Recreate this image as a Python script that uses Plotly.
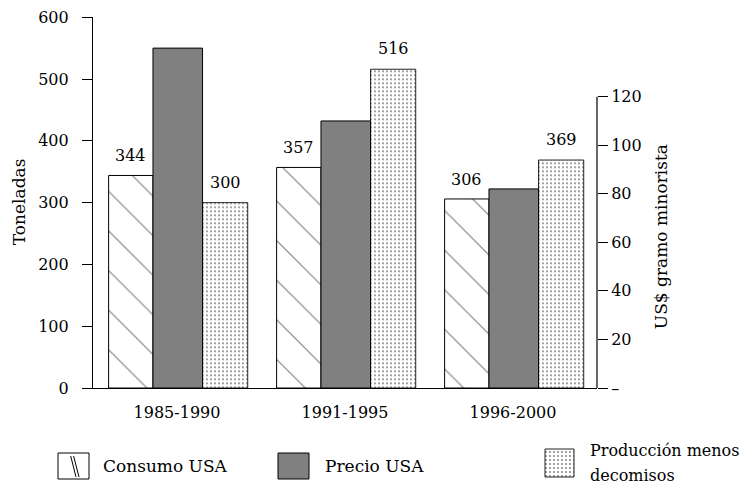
import plotly.graph_objects as go

# ---- data ----
categories = ["1985-1990", "1991-1995", "1996-2000"]
consumo_usa = [344, 357, 306]          # Toneladas
produccion_menos_decomisos = [300, 516, 369]  # Toneladas
precio_usa = [140, 110, 82]            # US$ gramo minorista (right axis)
left_tickvals = [0, 100, 200, 300, 400, 500, 600]
right_tickvals = [0, 20, 40, 60, 80, 100, 120]
right_ticktext = ["\u2013", "20", "40", "60", "80", "100", "120"]
series_names = ["Consumo USA", "Precio USA", "Producci\u00f3n menos", "decomisos"]

# ---- layout constants (pixels) ----
W, H = 750, 488
PL, PR, PT, PB = 93, 597, 17.33, 388
R120_PX = 96.67  # pixel row of the 120 tick on the right axis
FONT = "DejaVu Serif"
NUM = dict(family=FONT, size=16, color="black")
TXT = dict(family=FONT, size=17, color="black")
TXT16 = dict(family=FONT, size=16, color="black")

def px_x(x):
    return x / W

def px_y(y):
    return (H - y) / H

right_top = 120 * (PB - PT) / (PB - R120_PX)

# bar geometry per series (category units)
geo = {
    "consumo": dict(offset=-0.407, width=0.264),
    "precio": dict(offset=-0.143, width=0.295),
    "prod": dict(offset=0.152, width=0.269),
}

hatch = dict(shape="\\", size=28, solidity=0.04, fgcolor="black", bgcolor="white")
dots = dict(shape=".", size=4, solidity=0.18, fgcolor="black", bgcolor="white")

fig = go.Figure()

fig.add_bar(
    x=categories, y=consumo_usa, name=series_names[0],
    offset=geo["consumo"]["offset"], width=geo["consumo"]["width"],
    marker=dict(color="white", line=dict(color="black", width=1), pattern=hatch),
    xaxis="x", yaxis="y", showlegend=False,
)
fig.add_bar(
    x=categories, y=precio_usa, name=series_names[1],
    offset=geo["precio"]["offset"], width=geo["precio"]["width"],
    marker=dict(color="#808080", line=dict(color="black", width=1)),
    xaxis="x", yaxis="y2", showlegend=False,
)
fig.add_bar(
    x=categories, y=produccion_menos_decomisos, name=series_names[2] + " " + series_names[3],
    offset=geo["prod"]["offset"], width=geo["prod"]["width"],
    marker=dict(color="white", line=dict(color="#222", width=1), pattern=dots),
    xaxis="x", yaxis="y", showlegend=False,
)

# ---- legend icons (separate hidden pixel-space axes) ----
leg_x = [73.5, 293.5, 559.5]
leg_w = [31, 31, 29]
leg_base = [453, 453, 449]
leg_h = [26, 26, 28]
leg_markers = [
    dict(color="white", line=dict(color="black", width=1)),
    dict(color="#808080", line=dict(color="black", width=1)),
    dict(color="white", line=dict(color="#222", width=1), pattern=dots),
]
for i in range(3):
    fig.add_bar(x=[leg_x[i]], y=[leg_h[i]], base=[leg_base[i]], width=[leg_w[i]],
                marker=leg_markers[i], xaxis="x3", yaxis="y3", showlegend=False,
                hoverinfo="skip")

annotations = []
# value labels over Consumo and Produccion bars
for i, v in enumerate(consumo_usa):
    annotations.append(dict(x=i + geo["consumo"]["offset"] + geo["consumo"]["width"] / 2, y=v,
                            xref="x", yref="y", text=str(v), showarrow=False,
                            yanchor="bottom", yshift=8, font=NUM))
for i, v in enumerate(produccion_menos_decomisos):
    annotations.append(dict(x=i + geo["prod"]["offset"] + geo["prod"]["width"] / 2, y=v,
                            xref="x", yref="y", text=str(v), showarrow=False,
                            yanchor="bottom", yshift=9, font=NUM))
# axis titles
annotations.append(dict(x=px_x(18.5), y=px_y(201.7), xref="paper", yref="paper",
                        text="Toneladas", textangle=-90, showarrow=False, font=TXT,
                        xanchor="center", yanchor="middle"))
annotations.append(dict(x=px_x(661.7), y=px_y(236.5), xref="paper", yref="paper",
                        text="US$ gramo minorista", textangle=-90, showarrow=False, font=TXT,
                        xanchor="center", yanchor="middle"))
# legend texts
annotations.append(dict(x=px_x(101), y=px_y(465.5), xref="paper", yref="paper",
                        text=series_names[0], showarrow=False, font=TXT,
                        xanchor="left", yanchor="middle"))
annotations.append(dict(x=px_x(323), y=px_y(465.5), xref="paper", yref="paper",
                        text=series_names[1], showarrow=False, font=TXT,
                        xanchor="left", yanchor="middle"))
annotations.append(dict(x=px_x(588), y=px_y(450), xref="paper", yref="paper",
                        text=series_names[2], showarrow=False, font=TXT16,
                        xanchor="left", yanchor="middle"))
annotations.append(dict(x=px_x(588), y=px_y(475), xref="paper", yref="paper",
                        text=series_names[3], showarrow=False, font=TXT16,
                        xanchor="left", yanchor="middle"))

shapes = [
    # right axis line only from 0 to 120
    dict(type="line", xref="paper", yref="y2", x0=px_x(PR), x1=px_x(PR), y0=0, y1=120,
         line=dict(color="black", width=1.2)),
    # backslash marks in Consumo legend icon
    dict(type="line", xref="x3", yref="y3", x0=70.7, y0=456, x1=76, y1=477,
         line=dict(color="black", width=1)),
    dict(type="line", xref="x3", yref="y3", x0=73.6, y0=456, x1=79, y1=477,
         line=dict(color="black", width=1)),
]

fig.update_layout(
    width=W, height=H,
    margin=dict(l=0, r=0, t=0, b=0, autoexpand=False),
    paper_bgcolor="white", plot_bgcolor="rgba(0,0,0,0)",
    barmode="overlay",
    font=NUM,
    showlegend=False,
    xaxis=dict(domain=[px_x(PL), px_x(PR)], range=[-0.5, 2.5], type="category",
               showline=True, linecolor="black", linewidth=1.2, ticks="",
               showgrid=False, zeroline=False, tickfont=NUM, ticklabelstandoff=10,
               anchor="y", fixedrange=True, automargin=False),
    yaxis=dict(domain=[px_y(PB), px_y(PT)], range=[0, 600], tickvals=left_tickvals,
               showline=True, linecolor="black", linewidth=1.2, ticks="outside",
               ticklen=10, tickcolor="black", tickwidth=1.2, showgrid=False,
               zeroline=False, tickfont=NUM, ticklabelstandoff=10, anchor="x",
               automargin=False, fixedrange=True),
    yaxis2=dict(overlaying="y", side="right", anchor="x", range=[0, right_top],
                tickvals=right_tickvals, ticktext=right_ticktext,
                showline=False, ticks="outside", ticklen=10, tickcolor="black",
                tickwidth=1.2, showgrid=False, zeroline=False, tickfont=NUM,
                ticklabelstandoff=0, automargin=False, fixedrange=True),
    xaxis3=dict(domain=[0, 1], range=[0, W], visible=False, anchor="y3", fixedrange=True,
                automargin=False),
    yaxis3=dict(domain=[0, px_y(438)], range=[H, 438], visible=False, anchor="x3",
                fixedrange=True, automargin=False),
    annotations=annotations,
    shapes=shapes,
)

fig.write_html("out.html", config={"displayModeBar": False},
               post_script="document.body.style.margin='0';document.body.style.overflow='hidden';")
